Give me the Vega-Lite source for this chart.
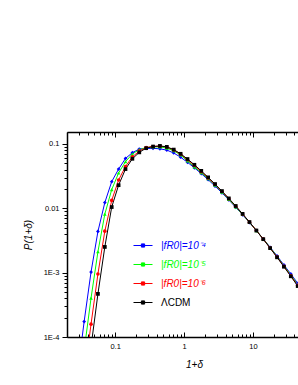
{
  "$schema": "https://vega.github.io/schema/vega-lite/v6.json",
  "width": 231,
  "height": 205,
  "autosize": {"type": "none"},
  "padding": {"left": 67, "top": 132, "right": 0, "bottom": 48},
  "background": "white",
  "config": {
    "view": {"stroke": null},
    "font": "Liberation Sans",
    "axis": {"grid": false, "domainColor": "black", "domainWidth": 1.5, "tickColor": "black", "tickWidth": 1, "labelColor": "black", "titleColor": "black", "labelFont": "Liberation Sans", "labelFontSize": 7.5, "titleFont": "Liberation Sans", "titleFontSize": 10, "titleFontStyle": "italic", "titleFontWeight": "normal"}
  },
  "datasets": {
    "curves": [
      {"s": "1e-4", "x": 0.02818, "p": 0.00002512},
      {"s": "1e-4", "x": 0.03548, "p": 0.0001738},
      {"s": "1e-4", "x": 0.04467, "p": 0.001023},
      {"s": "1e-4", "x": 0.05623, "p": 0.004365},
      {"s": "1e-4", "x": 0.07079, "p": 0.0123},
      {"s": "1e-4", "x": 0.08913, "p": 0.026},
      {"s": "1e-4", "x": 0.1122, "p": 0.04074},
      {"s": "1e-4", "x": 0.1413, "p": 0.05957},
      {"s": "1e-4", "x": 0.1778, "p": 0.07328},
      {"s": "1e-4", "x": 0.2239, "p": 0.08356},
      {"s": "1e-4", "x": 0.2818, "p": 0.08511},
      {"s": "1e-4", "x": 0.3548, "p": 0.0857},
      {"s": "1e-4", "x": 0.4467, "p": 0.08414},
      {"s": "1e-4", "x": 0.5623, "p": 0.08035},
      {"s": "1e-4", "x": 0.7079, "p": 0.07244},
      {"s": "1e-4", "x": 0.8913, "p": 0.06237},
      {"s": "1e-4", "x": 1.122, "p": 0.05188},
      {"s": "1e-4", "x": 1.413, "p": 0.04266},
      {"s": "1e-4", "x": 1.778, "p": 0.03467},
      {"s": "1e-4", "x": 2.239, "p": 0.02786},
      {"s": "1e-4", "x": 2.818, "p": 0.02213},
      {"s": "1e-4", "x": 3.548, "p": 0.01738},
      {"s": "1e-4", "x": 4.467, "p": 0.01349},
      {"s": "1e-4", "x": 5.623, "p": 0.01035},
      {"s": "1e-4", "x": 7.079, "p": 0.007943},
      {"s": "1e-4", "x": 8.913, "p": 0.005998},
      {"s": "1e-4", "x": 11.22, "p": 0.004487},
      {"s": "1e-4", "x": 14.13, "p": 0.00335},
      {"s": "1e-4", "x": 17.78, "p": 0.002483},
      {"s": "1e-4", "x": 22.39, "p": 0.00182},
      {"s": "1e-4", "x": 28.18, "p": 0.001318},
      {"s": "1e-4", "x": 35.48, "p": 0.000955},
      {"s": "1e-4", "x": 44.67, "p": 0.000684},
      {"s": "1e-4", "x": 56.23, "p": 0.00049},

      {"s": "1e-5", "x": 0.03548, "p": 0.00006166},
      {"s": "1e-5", "x": 0.04467, "p": 0.0004027},
      {"s": "1e-5", "x": 0.05623, "p": 0.002113},
      {"s": "1e-5", "x": 0.07079, "p": 0.008128},
      {"s": "1e-5", "x": 0.08913, "p": 0.0195},
      {"s": "1e-5", "x": 0.1122, "p": 0.03548},
      {"s": "1e-5", "x": 0.1413, "p": 0.05309},
      {"s": "1e-5", "x": 0.1778, "p": 0.06998},
      {"s": "1e-5", "x": 0.2239, "p": 0.08166},
      {"s": "1e-5", "x": 0.2818, "p": 0.0879},
      {"s": "1e-5", "x": 0.3548, "p": 0.09016},
      {"s": "1e-5", "x": 0.4467, "p": 0.09016},
      {"s": "1e-5", "x": 0.5623, "p": 0.0861},
      {"s": "1e-5", "x": 0.7079, "p": 0.07852},
      {"s": "1e-5", "x": 0.8913, "p": 0.06761},
      {"s": "1e-5", "x": 1.122, "p": 0.05433},
      {"s": "1e-5", "x": 1.413, "p": 0.04416},
      {"s": "1e-5", "x": 1.778, "p": 0.03589},
      {"s": "1e-5", "x": 2.239, "p": 0.02884},
      {"s": "1e-5", "x": 2.818, "p": 0.02291},
      {"s": "1e-5", "x": 3.548, "p": 0.01786},
      {"s": "1e-5", "x": 4.467, "p": 0.0138},
      {"s": "1e-5", "x": 5.623, "p": 0.01054},
      {"s": "1e-5", "x": 7.079, "p": 0.008035},
      {"s": "1e-5", "x": 8.913, "p": 0.006053},
      {"s": "1e-5", "x": 11.22, "p": 0.004508},
      {"s": "1e-5", "x": 14.13, "p": 0.003334},
      {"s": "1e-5", "x": 17.78, "p": 0.002455},
      {"s": "1e-5", "x": 22.39, "p": 0.001778},
      {"s": "1e-5", "x": 28.18, "p": 0.001279},
      {"s": "1e-5", "x": 35.48, "p": 0.000918},
      {"s": "1e-5", "x": 44.67, "p": 0.000653},
      {"s": "1e-5", "x": 56.23, "p": 0.000462},

      {"s": "1e-6", "x": 0.03548, "p": 0.00002399},
      {"s": "1e-6", "x": 0.04467, "p": 0.0001585},
      {"s": "1e-6", "x": 0.05623, "p": 0.000955},
      {"s": "1e-6", "x": 0.07079, "p": 0.004416},
      {"s": "1e-6", "x": 0.08913, "p": 0.01327},
      {"s": "1e-6", "x": 0.1122, "p": 0.02754},
      {"s": "1e-6", "x": 0.1413, "p": 0.04467},
      {"s": "1e-6", "x": 0.1778, "p": 0.0631},
      {"s": "1e-6", "x": 0.2239, "p": 0.07762},
      {"s": "1e-6", "x": 0.2818, "p": 0.0881},
      {"s": "1e-6", "x": 0.3548, "p": 0.09162},
      {"s": "1e-6", "x": 0.4467, "p": 0.09268},
      {"s": "1e-6", "x": 0.5623, "p": 0.08954},
      {"s": "1e-6", "x": 0.7079, "p": 0.08091},
      {"s": "1e-6", "x": 0.8913, "p": 0.0695},
      {"s": "1e-6", "x": 1.122, "p": 0.05689},
      {"s": "1e-6", "x": 1.413, "p": 0.04624},
      {"s": "1e-6", "x": 1.778, "p": 0.03715},
      {"s": "1e-6", "x": 2.239, "p": 0.02965},
      {"s": "1e-6", "x": 2.818, "p": 0.02344},
      {"s": "1e-6", "x": 3.548, "p": 0.01828},
      {"s": "1e-6", "x": 4.467, "p": 0.01409},
      {"s": "1e-6", "x": 5.623, "p": 0.01076},
      {"s": "1e-6", "x": 7.079, "p": 0.008128},
      {"s": "1e-6", "x": 8.913, "p": 0.006095},
      {"s": "1e-6", "x": 11.22, "p": 0.004519},
      {"s": "1e-6", "x": 14.13, "p": 0.003319},
      {"s": "1e-6", "x": 17.78, "p": 0.002415},
      {"s": "1e-6", "x": 22.39, "p": 0.001746},
      {"s": "1e-6", "x": 28.18, "p": 0.001253},
      {"s": "1e-6", "x": 35.48, "p": 0.000895},
      {"s": "1e-6", "x": 44.67, "p": 0.000635},
      {"s": "1e-6", "x": 56.23, "p": 0.000447},

      {"s": "LCDM", "x": 0.03548, "p": 0.00001072},
      {"s": "LCDM", "x": 0.04467, "p": 0.0000708},
      {"s": "LCDM", "x": 0.05623, "p": 0.000468},
      {"s": "LCDM", "x": 0.07079, "p": 0.002512},
      {"s": "LCDM", "x": 0.08913, "p": 0.01047},
      {"s": "LCDM", "x": 0.1122, "p": 0.02291},
      {"s": "LCDM", "x": 0.1413, "p": 0.04074},
      {"s": "LCDM", "x": 0.1778, "p": 0.05888},
      {"s": "LCDM", "x": 0.2239, "p": 0.07413},
      {"s": "LCDM", "x": 0.2818, "p": 0.0861},
      {"s": "LCDM", "x": 0.3548, "p": 0.0912},
      {"s": "LCDM", "x": 0.4467, "p": 0.0933},
      {"s": "LCDM", "x": 0.5623, "p": 0.0902},
      {"s": "LCDM", "x": 0.7079, "p": 0.0818},
      {"s": "LCDM", "x": 0.8913, "p": 0.0704},
      {"s": "LCDM", "x": 1.122, "p": 0.0584},
      {"s": "LCDM", "x": 1.413, "p": 0.0475},
      {"s": "LCDM", "x": 1.778, "p": 0.0382},
      {"s": "LCDM", "x": 2.239, "p": 0.0303},
      {"s": "LCDM", "x": 2.818, "p": 0.02385},
      {"s": "LCDM", "x": 3.548, "p": 0.01855},
      {"s": "LCDM", "x": 4.467, "p": 0.01427},
      {"s": "LCDM", "x": 5.623, "p": 0.01088},
      {"s": "LCDM", "x": 7.079, "p": 0.008195},
      {"s": "LCDM", "x": 8.913, "p": 0.006116},
      {"s": "LCDM", "x": 11.22, "p": 0.004523},
      {"s": "LCDM", "x": 14.13, "p": 0.003315},
      {"s": "LCDM", "x": 17.78, "p": 0.002407},
      {"s": "LCDM", "x": 22.39, "p": 0.001732},
      {"s": "LCDM", "x": 28.18, "p": 0.001237},
      {"s": "LCDM", "x": 35.48, "p": 0.000878},
      {"s": "LCDM", "x": 44.67, "p": 0.000619},
      {"s": "LCDM", "x": 56.23, "p": 0.000434}
    ]
  },
  "layer": [
    {
      "data": {"name": "curves"},
      "mark": {"type": "line", "clip": true, "strokeWidth": 1},
      "encoding": {
        "x": {
          "field": "x", "type": "quantitative",
          "scale": {"type": "log", "domain": [0.02, 45.1], "nice": false},
          "axis": {
            "orient": "bottom",
            "values": [0.02, 0.03, 0.04, 0.05, 0.06, 0.07, 0.08, 0.09, 0.1, 0.2, 0.3, 0.4, 0.5, 0.6, 0.7, 0.8, 0.9, 1, 2, 3, 4, 5, 6, 7, 8, 9, 10, 20, 30, 40],
            "tickSize": {"condition": {"test": "abs(log(datum.value)/LN10 - round(log(datum.value)/LN10)) < 0.001", "value": -5}, "value": -3},
            "labelExpr": "abs(log(datum.value)/LN10 - round(log(datum.value)/LN10)) < 0.001 ? (datum.value < 0.5 ? '0.1' : format(datum.value, 'd')) : ''",
            "labelPadding": 10,
            "labelFlush": false,
            "labelOverlap": false,
            "title": "1+δ",
            "titleX": 127,
            "titleY": 27,
            "titleAlign": "center",
            "titleBaseline": "middle"
          }
        },
        "y": {
          "field": "p", "type": "quantitative",
          "scale": {"type": "log", "domain": [0.0001, 0.1536], "nice": false},
          "axis": {
            "orient": "left",
            "values": [0.0001, 0.0002, 0.0003, 0.0004, 0.0005, 0.0006, 0.0007, 0.0008, 0.0009, 0.001, 0.002, 0.003, 0.004, 0.005, 0.006, 0.007, 0.008, 0.009, 0.01, 0.02, 0.03, 0.04, 0.05, 0.06, 0.07, 0.08, 0.09, 0.1],
            "tickSize": {"condition": {"test": "abs(log(datum.value)/LN10 - round(log(datum.value)/LN10)) < 0.001", "value": 5}, "value": 3},
            "labelExpr": "abs(log(datum.value)/LN10 - round(log(datum.value)/LN10)) < 0.001 ? (datum.value > 0.05 ? '0.1' : datum.value > 0.005 ? '0.01' : datum.value > 0.0005 ? '1E-3' : '1E-4') : ''",
            "labelPadding": 3,
            "labelFlush": false,
            "labelOverlap": false,
            "title": "P(1+δ)",
            "titleX": -39,
            "titleY": 102.5,
            "titleAngle": -90,
            "titleAlign": "center",
            "titleBaseline": "middle"
          }
        },
        "color": {
          "field": "s", "type": "nominal",
          "scale": {"domain": ["1e-4", "1e-5", "1e-6", "LCDM"], "range": ["#0000ff", "#00ff00", "#ff0000", "#000000"]},
          "legend": {
            "orient": "none",
            "legendX": 66,
            "legendY": 103.5,
            "title": null,
            "padding": 0,
            "rowPadding": 4,
            "symbolType": "M -1 0 H 1 M -0.17 -0.17 H 0.17 V 0.17 H -0.17 Z",
            "symbolSize": 361,
            "symbolStrokeWidth": 1,
            "labelOffset": 8,
            "labelFont": "Liberation Sans",
            "labelFontSize": 10,
            "labelLimit": 200,
            "labelExpr": "datum.value == 'LCDM' ? 'ΛCDM' : datum.value == '1e-4' ? '|fR0|=10⁻⁴' : datum.value == '1e-5' ? '|fR0|=10⁻⁵' : '|fR0|=10⁻⁶'",
            "encode": {
              "symbols": {"update": {"fill": {"scale": "color", "field": "value"}, "stroke": {"scale": "color", "field": "value"}, "opacity": {"value": 1}}},
              "labels": {"update": {"fill": {"scale": "color", "field": "value"}, "fontStyle": {"signal": "datum.value == 'LCDM' ? 'normal' : 'italic'"}}}
            }
          }
        }
      }
    },
    {
      "data": {"name": "curves"},
      "transform": [{"filter": "datum.s == '1e-4'"}],
      "mark": {"type": "point", "shape": "diamond", "filled": true, "clip": true, "size": 14, "opacity": 1},
      "encoding": {
        "x": {
          "field": "x", "type": "quantitative",
          "axis": {
            "orient": "top",
            "values": [0.02, 0.03, 0.04, 0.05, 0.06, 0.07, 0.08, 0.09, 0.1, 0.2, 0.3, 0.4, 0.5, 0.6, 0.7, 0.8, 0.9, 1, 2, 3, 4, 5, 6, 7, 8, 9, 10, 20, 30, 40],
            "tickSize": {"condition": {"test": "abs(log(datum.value)/LN10 - round(log(datum.value)/LN10)) < 0.001", "value": -5}, "value": -3},
            "labels": false,
            "title": null
          }
        },
        "y": {"field": "p", "type": "quantitative"},
        "color": {"field": "s", "type": "nominal"}
      }
    },
    {
      "data": {"name": "curves"},
      "transform": [{"filter": "datum.s == '1e-5'"}],
      "mark": {"type": "point", "shape": "triangle-up", "filled": true, "clip": true, "size": 13, "opacity": 1},
      "encoding": {
        "x": {"field": "x", "type": "quantitative", "axis": null},
        "y": {"field": "p", "type": "quantitative"},
        "color": {"field": "s", "type": "nominal"}
      }
    },
    {
      "data": {"name": "curves"},
      "transform": [{"filter": "datum.s == '1e-6'"}],
      "mark": {"type": "point", "shape": "circle", "filled": true, "clip": true, "size": 13, "opacity": 1},
      "encoding": {
        "x": {"field": "x", "type": "quantitative", "axis": null},
        "y": {"field": "p", "type": "quantitative"},
        "color": {"field": "s", "type": "nominal"}
      }
    },
    {
      "data": {"name": "curves"},
      "transform": [{"filter": "datum.s == 'LCDM'"}],
      "mark": {"type": "point", "shape": "square", "filled": true, "clip": true, "size": 14, "opacity": 1},
      "encoding": {
        "x": {"field": "x", "type": "quantitative", "axis": null},
        "y": {"field": "p", "type": "quantitative"},
        "color": {"field": "s", "type": "nominal"}
      }
    }
  ],
  "resolve": {"axis": {"x": "independent"}}
}
